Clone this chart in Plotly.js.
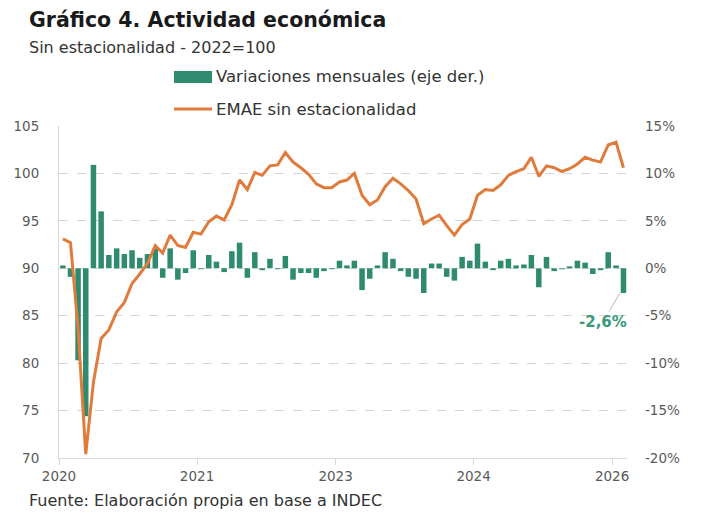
<!DOCTYPE html>
<html>
<head>
<meta charset="utf-8">
<script src="https://cdn.plot.ly/plotly-3.0.1.min.js"></script>
<style>
  body { margin: 0; background: #fff; }
  #plot { width: 710px; height: 518px; }
</style>
</head>
<body>
<div id="plot"></div>
<script>
// EMAE desestacionalizado (2022=100), monthly from Jan 2020
var emae = [
    93.1, 92.7, 83.7, 70.4, 78.0, 82.6, 83.5, 85.4, 86.4, 88.4, 89.4, 90.5,
    92.4, 91.6, 93.5, 92.4, 92.2, 93.8, 93.6, 94.9, 95.5, 95.1, 96.7, 99.3,
    98.3, 100.1, 99.8, 100.8, 100.9, 102.2, 101.2, 100.6, 99.9, 98.9, 98.5, 98.5,
    99.1, 99.3, 100.0, 97.7, 96.7, 97.2, 98.6, 99.5, 98.9, 98.2, 97.3, 94.7,
    95.2, 95.6, 94.5, 93.5, 94.6, 95.2, 97.7, 98.3, 98.2, 98.8, 99.8, 100.2,
    100.5, 101.7, 99.7, 100.8, 100.6, 100.2, 100.5, 101.0, 101.7, 101.4, 101.2, 103.0,
    103.3, 100.6
];
// variacion mensual (%)
var variacion = [
    0.3, -0.9, -9.7, -15.6, 10.9, 6.0, 1.4, 2.1, 1.5, 1.9, 1.1, 1.5,
    2.1, -1.0, 2.1, -1.2, -0.5, 1.9, -0.1, 1.4, 0.7, -0.4, 1.8, 2.7,
    -1.0, 1.7, -0.2, 1.0, -0.1, 1.3, -1.2, -0.5, -0.5, -1.0, -0.3, -0.1,
    0.8, 0.3, 0.8, -2.3, -1.1, 0.3, 1.7, 1.0, -0.3, -0.9, -1.1, -2.6,
    0.5, 0.5, -0.9, -1.3, 1.2, 0.8, 2.6, 0.7, -0.2, 0.8, 1.0, 0.3,
    0.4, 1.4, -2.0, 1.2, -0.3, -0.1, 0.2, 0.8, 0.6, -0.6, -0.2, 1.7,
    0.3, -2.6
];
var tickDates = ['2020-01-01', '2021-07-01', '2023-01-01', '2024-07-01', '2026-01-01'];
var tickLabels = ['2020', '2021', '2023', '2024', '2026'];
var pctTicks = [-20, -15, -10, -5, 0, 5, 10, 15];

var meses = [];
for (var k = 0; k < emae.length; k++) {
    var yy = 2020 + Math.floor(k / 12);
    var mm = (k % 12) + 1;
    meses.push(yy + '-' + (mm < 10 ? '0' + mm : mm) + '-01');
}

var verde = '#2f8b6f';
var naranja = '#e07b3c';
var fuente = 'DejaVu Sans, sans-serif';

// plot area in px, to place the text outside it
var L = 59, R = 627, T = 126, B = 458;
function px(x) { return (x - L) / (R - L); }
function py(y) { return (B - y) / (B - T); }

var data = [
    {
        type: 'bar',
        x: meses,
        y: variacion,
        xperiod: 'M1',
        xperiodalignment: 'middle',
        marker: { color: verde },
        yaxis: 'y',
        showlegend: false
    },
    {
        type: 'scatter',
        mode: 'lines',
        x: meses,
        y: emae,
        xperiod: 'M1',
        xperiodalignment: 'middle',
        line: { color: naranja, width: 3 },
        yaxis: 'y2',
        showlegend: false
    }
];

var ultimo = variacion[variacion.length - 1];

var layout = {
    width: 710,
    height: 518,
    margin: { l: L, r: 710 - R, t: T, b: 518 - B, pad: 0 },
    paper_bgcolor: '#ffffff',
    plot_bgcolor: '#ffffff',
    font: { family: fuente, size: 13.5, color: '#595959' },
    bargap: 0.26,
    xaxis: {
        type: 'date',
        range: ['2020-01-01', '2026-03-01'],
        tickvals: tickDates,
        ticktext: tickLabels,
        ticks: 'outside',
        ticklen: 6,
        tickcolor: '#d9d9d9',
        showline: true,
        linecolor: '#d9d9d9',
        showgrid: false,
        zeroline: false
    },
    yaxis: {
        side: 'right',
        range: [-20, 15],
        tickvals: pctTicks,
        ticktext: pctTicks.map(function (v) { return v + '%'; }),
        showgrid: true,
        gridcolor: '#d4d4d4',
        griddash: 'dash',
        zeroline: false,
        ticklabelstandoff: 17
    },
    yaxis2: {
        overlaying: 'y',
        side: 'left',
        range: [70, 105],
        dtick: 5,
        showgrid: false,
        showline: true,
        linecolor: '#d9d9d9',
        zeroline: false,
        ticklabelstandoff: 16
    },
    shapes: [
        { type: 'rect', xref: 'paper', yref: 'paper', x0: px(174), x1: px(212), y0: py(83), y1: py(71),
          fillcolor: verde, line: { width: 0 } },
        { type: 'line', xref: 'paper', yref: 'paper', x0: px(174), x1: px(212), y0: py(109), y1: py(109),
          line: { color: naranja, width: 3 } }
    ],
    annotations: [
        { text: '<b>Gráfico 4. Actividad económica</b>', xref: 'paper', yref: 'paper', x: px(27), y: py(20),
          xanchor: 'left', yanchor: 'middle', showarrow: false, font: { size: 20.5, color: '#1a1a1a' } },
        { text: 'Sin estacionalidad - 2022=100', xref: 'paper', yref: 'paper', x: px(27), y: py(48),
          xanchor: 'left', yanchor: 'middle', showarrow: false, font: { size: 16, color: '#333333' } },
        { text: 'Variaciones mensuales (eje der.)', xref: 'paper', yref: 'paper', x: px(214), y: py(77),
          xanchor: 'left', yanchor: 'middle', showarrow: false, font: { size: 16.5, color: '#333333' } },
        { text: 'EMAE sin estacionalidad', xref: 'paper', yref: 'paper', x: px(214), y: py(109),
          xanchor: 'left', yanchor: 'middle', showarrow: false, font: { size: 16.5, color: '#333333' } },
        { text: 'Fuente: Elaboración propia en base a INDEC', xref: 'paper', yref: 'paper', x: px(27), y: py(500),
          xanchor: 'left', yanchor: 'middle', showarrow: false, font: { size: 16, color: '#333333' } },
        { text: '<b>' + ultimo.toFixed(1).replace('.', ',') + '%</b>',
          x: meses[meses.length - 1], y: ultimo, xref: 'x', yref: 'y',
          showarrow: true, arrowhead: 0, arrowwidth: 1.2, arrowcolor: '#c8c8c8',
          ax: -17, ay: 29, font: { size: 15, color: '#3a9a7a' } }
    ]
};

Plotly.newPlot('plot', data, layout, { displayModeBar: false, staticPlot: true });
</script>
</body>
</html>
